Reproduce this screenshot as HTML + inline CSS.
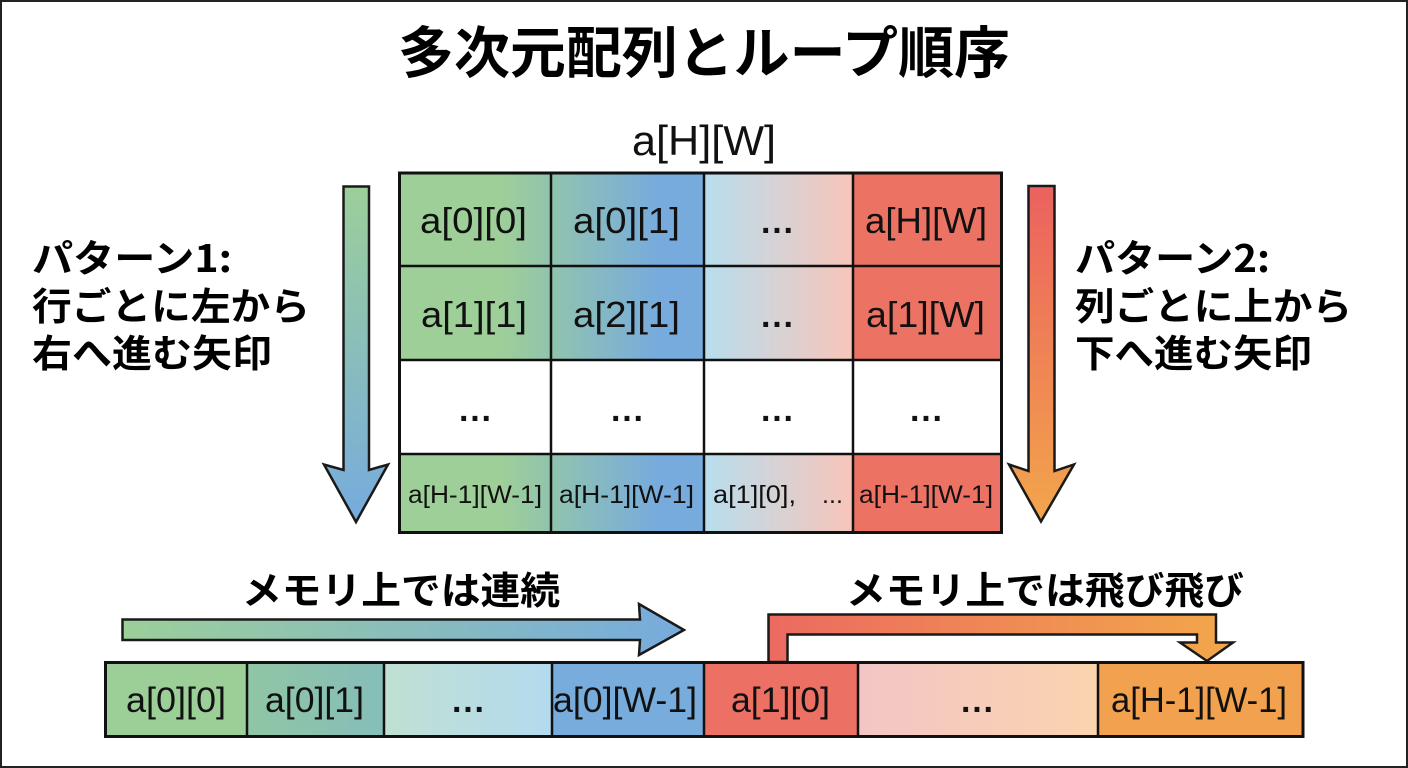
<!DOCTYPE html>
<html lang="ja"><head><meta charset="utf-8"><title>多次元配列とループ順序</title>
<style>
html,body{margin:0;padding:0;background:#fff;width:1408px;height:768px;overflow:hidden}
svg{display:block}
text{fill:#111;font-family:"Liberation Sans","Noto Sans CJK JP",sans-serif}
.jp{font-family:"Noto Sans CJK JP","Liberation Sans",sans-serif;font-weight:700;fill:#000}
.c{font-size:36px}
.m{font-size:35px}
.s{font-size:25px}
.d{font-weight:700;font-size:34px}
.ln{stroke:#111;stroke-width:3;fill:none}
.ln2{stroke:#111;stroke-width:2.5;fill:none}
.ar{stroke:#1a1a1a;stroke-width:2.5;stroke-linejoin:miter}
</style></head><body>
<svg width="1408" height="768" viewBox="0 0 1408 768" xmlns="http://www.w3.org/2000/svg">
<defs>
<linearGradient id="gb" x1="0" x2="1" y1="0" y2="0"><stop offset="0.33" stop-color="#9ecf98"/><stop offset="0.85" stop-color="#77abdd"/></linearGradient>
<linearGradient id="bp" x1="0" x2="1" y1="0" y2="0"><stop offset="0" stop-color="#b7deee"/><stop offset="1" stop-color="#f8c5ba"/></linearGradient>
<linearGradient id="a1" x1="0" x2="0" y1="0" y2="1"><stop offset="0" stop-color="#9ccf99"/><stop offset="1" stop-color="#76abde"/></linearGradient>
<linearGradient id="a2" x1="0" x2="0" y1="0" y2="1"><stop offset="0" stop-color="#ec615f"/><stop offset="1" stop-color="#f2a54b"/></linearGradient>
<linearGradient id="a3" x1="0" x2="1" y1="0" y2="0"><stop offset="0" stop-color="#9ccf99"/><stop offset="1" stop-color="#76abde"/></linearGradient>
<linearGradient id="a4" gradientUnits="userSpaceOnUse" x1="768" x2="1216" y1="0" y2="0"><stop offset="0" stop-color="#ec6a60"/><stop offset="1" stop-color="#f2a54b"/></linearGradient>
<linearGradient id="m2" x1="0" x2="1" y1="0" y2="0"><stop offset="0" stop-color="#90c6a4"/><stop offset="1" stop-color="#86bdb9"/></linearGradient>
<linearGradient id="m3" x1="0" x2="1" y1="0" y2="0"><stop offset="0" stop-color="#c0e0d2"/><stop offset="1" stop-color="#b4daef"/></linearGradient>
<linearGradient id="m6" x1="0" x2="1" y1="0" y2="0"><stop offset="0" stop-color="#f3c5c6"/><stop offset="1" stop-color="#fad4ae"/></linearGradient>
</defs>

<rect x="1" y="1" width="1406" height="766" fill="#fff" stroke="#222" stroke-width="2"/>

<text class="jp" x="398" y="73" font-size="56" textLength="612" lengthAdjust="spacingAndGlyphs">多次元配列とループ順序</text>
<text x="632" y="155" font-size="42" textLength="144" lengthAdjust="spacingAndGlyphs">a[H][W]</text>

<!-- matrix -->
<rect x="400" y="173" width="304" height="93" fill="url(#gb)"/>
<rect x="400" y="266" width="304" height="94" fill="url(#gb)"/>
<rect x="400" y="454" width="304" height="78" fill="url(#gb)"/>
<rect x="704" y="173" width="149" height="93" fill="url(#bp)"/>
<rect x="704" y="266" width="149" height="94" fill="url(#bp)"/>
<rect x="704" y="454" width="149" height="78" fill="url(#bp)"/>
<rect x="853" y="173" width="149" height="93" fill="#ec7263"/>
<rect x="853" y="266" width="149" height="94" fill="#ec7263"/>
<rect x="853" y="454" width="149" height="78" fill="#ec7263"/>
<path class="ln" d="M399.5 173H1001.5V532.5H399.5Z"/>
<path class="ln2" d="M551 173V532M704 173V532M853 173V532M400 266H1001M400 360H1001M400 454H1001"/>

<text class="c" x="420" y="233" textLength="107" lengthAdjust="spacingAndGlyphs">a[0][0]</text>
<text class="c" x="573" y="233" textLength="107" lengthAdjust="spacingAndGlyphs">a[0][1]</text>
<text class="d" x="761" y="233" textLength="32">...</text>
<text class="c" x="865" y="233" textLength="122" lengthAdjust="spacingAndGlyphs">a[H][W]</text>
<text class="c" x="421" y="327" textLength="106" lengthAdjust="spacingAndGlyphs">a[1][1]</text>
<text class="c" x="573" y="327" textLength="107" lengthAdjust="spacingAndGlyphs">a[2][1]</text>
<text class="d" x="761" y="327" textLength="32">...</text>
<text class="c" x="866" y="327" textLength="119" lengthAdjust="spacingAndGlyphs">a[1][W]</text>
<text class="d" x="459" y="421" textLength="32">...</text>
<text class="d" x="611" y="421" textLength="32">...</text>
<text class="d" x="761" y="421" textLength="32">...</text>
<text class="d" x="910" y="421" textLength="32">...</text>
<text class="s" x="408" y="503" textLength="134" lengthAdjust="spacingAndGlyphs">a[H-1][W-1]</text>
<text class="s" x="559" y="503" textLength="135" lengthAdjust="spacingAndGlyphs">a[H-1][W-1]</text>
<text class="s" x="713" y="503" textLength="83" lengthAdjust="spacingAndGlyphs">a[1][0],</text>
<text class="s" x="822" y="503" textLength="21">...</text>
<text class="s" x="859" y="503" textLength="134" lengthAdjust="spacingAndGlyphs">a[H-1][W-1]</text>

<!-- vertical arrows -->
<path class="ar" fill="url(#a1)" d="M343.5 186.5H369V470L388 464.5L356 522L324 464.5L343.5 470Z"/>
<path class="ar" fill="url(#a2)" d="M1028.5 186H1054.5V471L1074 464.5L1041 521.5L1009 464.5L1028.5 471Z"/>

<!-- side labels -->
<text class="jp" font-size="38" x="32" y="272" textLength="200" lengthAdjust="spacingAndGlyphs">パターン1:</text>
<text class="jp" font-size="38" x="32" y="320" textLength="278" lengthAdjust="spacingAndGlyphs">行ごとに左から</text>
<text class="jp" font-size="38" x="32" y="367" textLength="240" lengthAdjust="spacingAndGlyphs">右へ進む矢印</text>
<text class="jp" font-size="38" x="1075" y="272" textLength="195" lengthAdjust="spacingAndGlyphs">パターン2:</text>
<text class="jp" font-size="38" x="1075" y="320" textLength="277" lengthAdjust="spacingAndGlyphs">列ごとに上から</text>
<text class="jp" font-size="38" x="1075" y="367" textLength="237" lengthAdjust="spacingAndGlyphs">下へ進む矢印</text>

<text class="jp" x="242" y="604" font-size="38" textLength="318" lengthAdjust="spacingAndGlyphs">メモリ上では連続</text>
<text class="jp" x="846" y="604" font-size="38" textLength="398" lengthAdjust="spacingAndGlyphs">メモリ上では飛び飛び</text>

<!-- memory arrows -->
<path class="ar" fill="url(#a3)" d="M122.5 619.5H640L639 604L684 630L639 655L640 640H122.5Z"/>
<path class="ar" fill="url(#a4)" d="M768.5 662V614.5H1216V642.5H1233L1207 661L1180 642.5H1197V634.5H787.5V662Z"/>

<!-- memory bar -->
<rect x="105" y="662" width="142" height="75" fill="#9ccf98"/>
<rect x="247" y="662" width="137" height="75" fill="url(#m2)"/>
<rect x="384" y="662" width="168" height="75" fill="url(#m3)"/>
<rect x="552" y="662" width="152" height="75" fill="#78acdc"/>
<rect x="704" y="662" width="154" height="75" fill="#ec7063"/>
<rect x="858" y="662" width="240" height="75" fill="url(#m6)"/>
<rect x="1098" y="662" width="205" height="75" fill="#f2a24e"/>
<path class="ln" d="M105.5 662.5H1303V736.5H105.5Z"/>
<path class="ln2" d="M247 662V736M384 662V736M552 662V736M704 662V736M858 662V736M1098 662V736"/>

<text class="m" x="126" y="712" textLength="100" lengthAdjust="spacingAndGlyphs">a[0][0]</text>
<text class="m" x="265" y="712" textLength="99" lengthAdjust="spacingAndGlyphs">a[0][1]</text>
<text class="d" x="452" y="712" textLength="32">...</text>
<text class="m" x="553" y="712" textLength="144" lengthAdjust="spacingAndGlyphs">a[0][W-1]</text>
<text class="m" x="731" y="712" textLength="99" lengthAdjust="spacingAndGlyphs">a[1][0]</text>
<text class="d" x="961" y="712" textLength="32">...</text>
<text class="m" x="1111" y="712" textLength="176" lengthAdjust="spacingAndGlyphs">a[H-1][W-1]</text>
</svg>
</body></html>
